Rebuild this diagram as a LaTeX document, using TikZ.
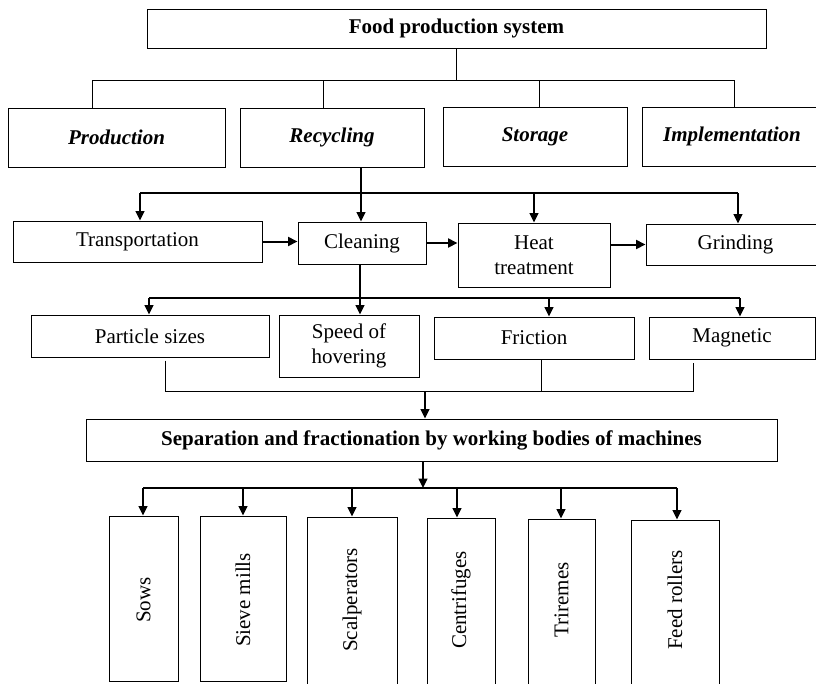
\documentclass[tikz,border=0pt]{standalone}
\usepackage{fontspec}
\setmainfont{Liberation Serif}
\usetikzlibrary{arrows.meta,calc}
\newcommand\myfs{\fontsize{21}{24.5}\selectfont}
\begin{document}
\begin{tikzpicture}[x=1pt,y=-1pt,
  box/.style={draw,line width=1pt,inner sep=0pt,align=center,font=\myfs},
  boldbox/.style={box,font=\myfs\bfseries},
  itbox/.style={box,font=\myfs\bfseries\itshape},
  arr/.style={line width=1.5pt,-{Triangle[length=9.5pt,width=9pt]}},
  harr/.style={arr,line width=2pt},
  bus/.style={line width=2.4pt},
  thinl/.style={line width=1pt},
  vtext/.style={rotate=90,font=\myfs,inner sep=0pt}]
\useasboundingbox (0,0) rectangle (816,683);
\clip (0,0) rectangle (816,683);

% top
\node[boldbox,minimum width=619pt,minimum height=39pt] (top) at (456.5,28.5) {Food production system};
% row 2
\node[itbox,minimum width=217pt,minimum height=59pt] (prod) at (116.5,137.5) {Production};
\node[itbox,minimum width=184pt,minimum height=59pt] (recy) at (332,137.5) {Recycling};
\node[itbox,minimum width=184pt,minimum height=59pt] (stor) at (535,136.5) {Storage};
\node[itbox,minimum width=180pt,minimum height=59pt] (impl) at (732,136.5) {Implementation};
% row 3
\node[box,minimum width=249pt,minimum height=41pt] (trans) at (137.5,241.5) {Transportation};
\node[box,minimum width=128pt,minimum height=42pt] (clean) at (362,243) {Cleaning};
\node[box,minimum width=152pt,minimum height=64pt] (heat) at (534,255) {Heat\\treatment};
\node[box,minimum width=179pt,minimum height=41pt] (grind) at (735.5,244.5) {Grinding};
% row 4
\node[box,minimum width=238pt,minimum height=42pt] (part) at (150,336) {Particle sizes};
\node[box,minimum width=140pt,minimum height=62pt] (speed) at (349,346) {Speed of\\hovering};
\node[box,minimum width=200pt,minimum height=42pt] (fric) at (534,338) {Friction};
\node[box,minimum width=166pt,minimum height=42pt] (magn) at (732,338) {Magnetic};
% separation
\node[boldbox,minimum width=691pt,minimum height=42pt] (sep) at (431.5,440) {Separation and fractionation by working bodies of machines};
% bottom boxes
\node[box,minimum width=69pt,minimum height=165.5pt] (sows) at (143.5,598.75) {};
\node[box,minimum width=86pt,minimum height=165.5pt] (sieve) at (243,598.75) {};
\node[box,minimum width=90pt,minimum height=173pt] (scal) at (352,603.5) {};
\node[box,minimum width=68pt,minimum height=172pt] (cent) at (461,604) {};
\node[box,minimum width=67pt,minimum height=171pt] (trir) at (561.5,604.5) {};
\node[box,minimum width=88pt,minimum height=170pt] (feed) at (675,605) {};
\coordinate (ty) at (0,600);
\node[vtext] (tsows) at (sows |- ty) {Sows};
\node[vtext] (tsieve) at (sieve |- ty) {Sieve mills};
\node[vtext] (tscal) at (scal |- ty) {Scalperators};
\node[vtext] (tcent) at (cent |- ty) {Centrifuges};
\node[vtext] (ttrir) at (trir |- ty) {Triremes};
\node[vtext] (tfeed) at (feed |- ty) {Feed rollers};

% top connectors
\coordinate (b1) at (456.5,80);
\coordinate (b1a) at (92,80);
\coordinate (b1b) at (323,80);
\coordinate (b1c) at (539,80);
\coordinate (b1d) at (734,80);
\draw[thinl] (top.south) -- (b1);
\draw[thinl] (b1a |- prod.north) -- (b1a) -- (b1d) -- (b1d |- impl.north);
\draw[thinl] (b1b) -- (b1b |- recy.north);
\draw[thinl] (b1c) -- (b1c |- stor.north);

% recycling to row 3
\coordinate (b2a) at (140,193);
\coordinate (b2b) at (361,193);
\coordinate (b2c) at (534,193);
\coordinate (b2d) at (738,193);
\draw[line width=1.5pt] (b2b |- recy.south) -- (b2b);
\draw[bus] (b2a) -- (b2d);
\draw[arr] (b2a) -- (b2a |- trans.north);
\draw[arr] (b2b) -- (b2b |- clean.north);
\draw[arr] (b2c) -- (b2c |- heat.north);
\draw[arr] (b2d) -- (b2d |- grind.north);
\draw[harr] (trans.east) -- (clean.west |- trans.east);
\draw[harr] (clean.east) -- (heat.west |- clean.east);
\draw[harr] (heat.east |- grind.west) -- (grind.west);

% cleaning to row 4
\coordinate (b3a) at (149,298);
\coordinate (b3b) at (360,298);
\coordinate (b3c) at (549,298);
\coordinate (b3d) at (740,298);
\draw[bus] (b3a) -- (b3d);
\draw[arr] (b3b |- clean.south) -- (b3b |- speed.north);
\draw[arr] (b3a) -- (b3a |- part.north);
\draw[arr] (b3c) -- (b3c |- fric.north);
\draw[arr] (b3d) -- (b3d |- magn.north);

% row 4 to separation
\coordinate (c1) at (165,391);
\coordinate (c2) at (541,391);
\coordinate (c3) at (693,391);
\coordinate (cm) at (425,391);
\draw[thinl] ([yshift=-3pt]c1 |- part.south) -- (c1) -- (c3) -- ([yshift=-3pt]c3 |- magn.south);
\draw[thinl] (c2 |- fric.south) -- (c2);
\draw[arr] (cm) -- (cm |- sep.north);

% separation to machines
\coordinate (b4) at (423,488);
\coordinate (b4a) at (143,488);
\coordinate (b4b) at (243,488);
\coordinate (b4c) at (352,488);
\coordinate (b4d) at (457,488);
\coordinate (b4e) at (561,488);
\coordinate (b4f) at (677,488);
\draw[arr] (b4 |- sep.south) -- (b4);
\draw[bus] (b4a) -- (b4f);
\draw[arr] (b4a) -- (b4a |- sows.north);
\draw[arr] (b4b) -- (b4b |- sieve.north);
\draw[arr] (b4c) -- (b4c |- scal.north);
\draw[arr] (b4d) -- (b4d |- cent.north);
\draw[arr] (b4e) -- (b4e |- trir.north);
\draw[arr] (b4f) -- (b4f |- feed.north);
\end{tikzpicture}
\end{document}
